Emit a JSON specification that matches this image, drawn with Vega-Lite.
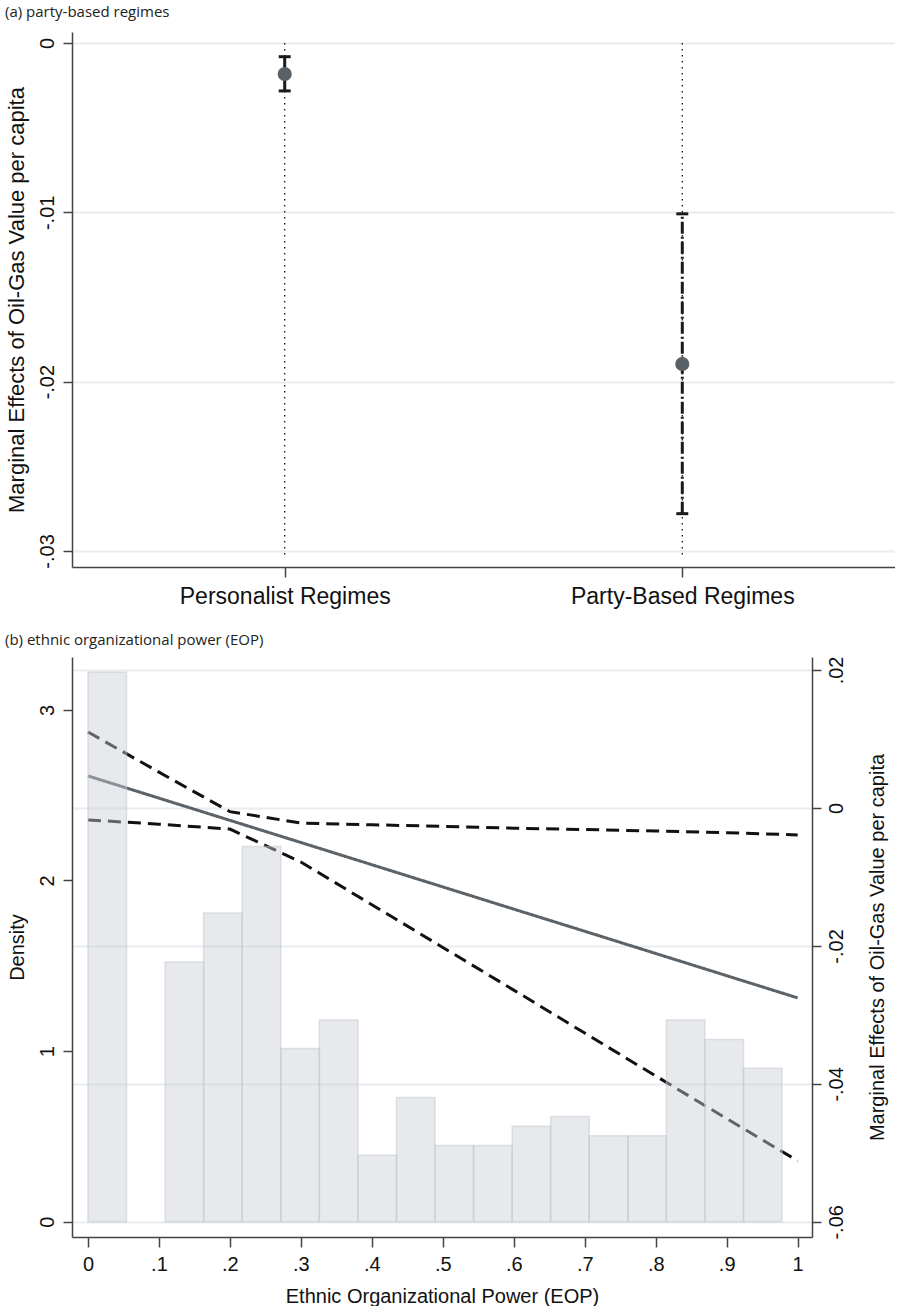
{
  "$schema": "https://vega.github.io/schema/vega-lite/v6.json",
  "background": "white",
  "padding": {"left": 5, "top": 5, "right": 0, "bottom": 0},
  "spacing": 25,
  "resolve": {"scale": {"strokeDash": "independent", "color": "independent"}},
  "datasets": {
    "regimes": [
      {"regime": "Personalist Regimes", "me": -0.00183, "lo": -0.00283, "hi": -0.00081},
      {"regime": "Party-Based Regimes", "me": -0.01896, "lo": -0.0278, "hi": -0.01009}
    ],
    "lines": [
      {"eop": 0.0, "series": "me", "value": 0.00464},
      {"eop": 0.1, "series": "me", "value": 0.00142},
      {"eop": 0.2, "series": "me", "value": -0.0018},
      {"eop": 0.3, "series": "me", "value": -0.00501},
      {"eop": 0.4, "series": "me", "value": -0.00823},
      {"eop": 0.5, "series": "me", "value": -0.01145},
      {"eop": 0.6, "series": "me", "value": -0.01467},
      {"eop": 0.7, "series": "me", "value": -0.01788},
      {"eop": 0.8, "series": "me", "value": -0.0211},
      {"eop": 0.9, "series": "me", "value": -0.02432},
      {"eop": 1.0, "series": "me", "value": -0.02754},
      {"eop": 0.0, "series": "hi", "value": 0.01101},
      {"eop": 0.1, "series": "hi", "value": 0.00519},
      {"eop": 0.2, "series": "hi", "value": -0.00054},
      {"eop": 0.3, "series": "hi", "value": -0.00219},
      {"eop": 0.4, "series": "hi", "value": -0.00244},
      {"eop": 0.5, "series": "hi", "value": -0.00268},
      {"eop": 0.6, "series": "hi", "value": -0.00293},
      {"eop": 0.7, "series": "hi", "value": -0.00313},
      {"eop": 0.8, "series": "hi", "value": -0.00335},
      {"eop": 0.9, "series": "hi", "value": -0.00359},
      {"eop": 1.0, "series": "hi", "value": -0.00391},
      {"eop": 0.0, "series": "lo", "value": -0.00174},
      {"eop": 0.1, "series": "lo", "value": -0.00235},
      {"eop": 0.2, "series": "lo", "value": -0.00306},
      {"eop": 0.3, "series": "lo", "value": -0.00784},
      {"eop": 0.4, "series": "lo", "value": -0.01403},
      {"eop": 0.5, "series": "lo", "value": -0.02022},
      {"eop": 0.6, "series": "lo", "value": -0.02641},
      {"eop": 0.7, "series": "lo", "value": -0.03264},
      {"eop": 0.8, "series": "lo", "value": -0.03886},
      {"eop": 0.9, "series": "lo", "value": -0.04504},
      {"eop": 1.0, "series": "lo", "value": -0.05116}
    ],
    "hist": [
      {"bin_start": 0.0, "bin_end": 0.0543, "density": 3.22},
      {"bin_start": 0.1087, "bin_end": 0.163, "density": 1.523},
      {"bin_start": 0.163, "bin_end": 0.2173, "density": 1.81},
      {"bin_start": 0.2173, "bin_end": 0.2717, "density": 2.2},
      {"bin_start": 0.2717, "bin_end": 0.326, "density": 1.015},
      {"bin_start": 0.326, "bin_end": 0.3803, "density": 1.183},
      {"bin_start": 0.3803, "bin_end": 0.4347, "density": 0.39},
      {"bin_start": 0.4347, "bin_end": 0.489, "density": 0.728},
      {"bin_start": 0.489, "bin_end": 0.5433, "density": 0.447},
      {"bin_start": 0.5433, "bin_end": 0.5977, "density": 0.447},
      {"bin_start": 0.5977, "bin_end": 0.652, "density": 0.56},
      {"bin_start": 0.652, "bin_end": 0.7063, "density": 0.617},
      {"bin_start": 0.7063, "bin_end": 0.7607, "density": 0.504},
      {"bin_start": 0.7607, "bin_end": 0.815, "density": 0.504},
      {"bin_start": 0.815, "bin_end": 0.8693, "density": 1.183},
      {"bin_start": 0.8693, "bin_end": 0.9237, "density": 1.068},
      {"bin_start": 0.9237, "bin_end": 0.978, "density": 0.9}
    ]
  },
  "vconcat": [
    {
      "width": 823,
      "height": 535,
      "title": {"text": "(a) party-based regimes", "anchor": "start", "frame": "group", "dx": -67, "offset": 12, "font": "Open Sans", "fontSize": 15, "fontWeight": "normal", "color": "#222222"},
      "data": {"name": "regimes"},
      "encoding": {
        "x": {
          "field": "regime", "type": "nominal",
          "scale": {"type": "point", "domain": ["Personalist Regimes", "Party-Based Regimes"], "padding": 0.535},
          "axis": {"title": null, "labelAngle": 0, "labelPadding": 8, "tickSize": 10, "grid": false, "labelFontSize": 23, "labelLimit": 0}
        }
      },
      "layer": [
        {
          "mark": {"type": "rule", "strokeDash": [1.5, 4.5], "strokeWidth": 1.3, "color": "#111111"},
          "encoding": {
            "y": {"datum": 0, "type": "quantitative", "scale": {"domain": [-0.03095, 0.00065], "nice": false, "zero": false},
              "axis": {"title": "Marginal Effects of Oil-Gas Value per capita", "titleFontSize": 22, "values": [0, -0.01, -0.02, -0.03], "labelAngle": 270, "grid": true, "tickSize": 9, "labelPadding": 6, "titlePadding": 9,
                "labelExpr": "datum.value == 0 ? '0' : replace(replace(format(datum.value, '.2f'), '\u2212', '-'), '0.', '.')"}},
            "y2": {"datum": -0.0303}
          }
        },
        {
          "mark": {"type": "rule", "strokeWidth": 3, "color": "#1a1a1a"},
          "encoding": {
            "y": {"field": "lo", "type": "quantitative", "scale": {"domain": [-0.03095, 0.00065], "nice": false, "zero": false}, "title": "Marginal Effects of Oil-Gas Value per capita"},
            "y2": {"field": "hi"},
            "strokeDash": {"field": "regime", "type": "nominal", "scale": {"domain": ["Personalist Regimes", "Party-Based Regimes"], "range": [[1, 0], [12, 3, 2, 3]]}, "legend": null}
          }
        },
        {
          "mark": {"type": "tick", "thickness": 3, "size": 12, "color": "#1a1a1a", "opacity": 1},
          "encoding": {"y": {"field": "lo", "type": "quantitative", "scale": {"domain": [-0.03095, 0.00065], "nice": false, "zero": false}, "title": "Marginal Effects of Oil-Gas Value per capita"}}
        },
        {
          "mark": {"type": "tick", "thickness": 3, "size": 12, "color": "#1a1a1a", "opacity": 1},
          "encoding": {"y": {"field": "hi", "type": "quantitative", "scale": {"domain": [-0.03095, 0.00065], "nice": false, "zero": false}, "title": "Marginal Effects of Oil-Gas Value per capita"}}
        },
        {
          "mark": {"type": "circle", "size": 200, "opacity": 1, "color": "#596066"},
          "encoding": {"y": {"field": "me", "type": "quantitative", "scale": {"domain": [-0.03095, 0.00065], "nice": false, "zero": false}, "title": "Marginal Effects of Oil-Gas Value per capita"}}
        }
      ]
    },
    {
      "width": 740,
      "height": 580,
      "title": {"text": "(b) ethnic organizational power (EOP)", "anchor": "start", "frame": "group", "dx": -67, "offset": 8, "font": "Open Sans", "fontSize": 15, "fontWeight": "normal", "color": "#222222"},
      "layer": [
        {
          "data": {"name": "lines"},
          "mark": {"type": "line", "strokeWidth": 3},
          "encoding": {
            "x": {"field": "eop", "type": "quantitative", "scale": {"domain": [-0.0225, 1.0202], "nice": false, "zero": false},
              "axis": {"title": "Ethnic Organizational Power (EOP)", "values": [0, 0.1, 0.2, 0.3, 0.4, 0.5, 0.6, 0.7, 0.8, 0.9, 1], "grid": false, "tickSize": 10, "labelPadding": 7, "titlePadding": 12,
                "labelExpr": "datum.value == 0 ? '0' : datum.value == 1 ? '1' : replace(format(datum.value, '.1f'), '0.', '.')"}},
            "y": {"field": "value", "type": "quantitative", "scale": {"domain": [-0.0622, 0.02188], "nice": false, "zero": false},
              "axis": {"orient": "right", "title": "Marginal Effects of Oil-Gas Value per capita", "titleAngle": 270, "values": [0.02, 0, -0.02, -0.04, -0.06], "labelAngle": 270, "grid": true, "tickSize": 9, "labelPadding": 5, "titlePadding": 41,
                "labelExpr": "datum.value == 0 ? '0' : replace(replace(format(datum.value, '.2f'), '\u2212', '-'), '0.', '.')"}},
            "detail": {"field": "series"},
            "color": {"field": "series", "type": "nominal", "scale": {"domain": ["me", "lo", "hi"], "range": ["#5b6268", "#111111", "#111111"]}, "legend": null},
            "strokeDash": {"field": "series", "type": "nominal", "scale": {"domain": ["me", "lo", "hi"], "range": [[1, 0], [13, 7], [13, 7]]}, "legend": null}
          }
        },
        {
          "data": {"name": "hist"},
          "mark": {"type": "rect", "fill": "#c8ccd4", "fillOpacity": 0.44, "stroke": "#c2c7cf", "strokeOpacity": 0.5, "strokeWidth": 1.5},
          "encoding": {
            "x": {"field": "bin_start", "type": "quantitative"},
            "x2": {"field": "bin_end"},
            "y": {"field": "density", "type": "quantitative", "scale": {"domain": [-0.0896, 3.31], "nice": false, "zero": false},
              "axis": {"orient": "left", "title": "Density", "values": [0, 1, 2, 3], "labelAngle": 270, "grid": false, "tickSize": 9, "labelPadding": 6, "titlePadding": 10}},
            "y2": {"datum": 0}
          }
        }
      ],
      "resolve": {"scale": {"y": "independent"}, "axis": {"y": "independent"}}
    }
  ],
  "config": {
    "view": {"stroke": null},
    "axis": {
      "labelFont": "Liberation Sans", "titleFont": "Liberation Sans",
      "labelFontSize": 20, "titleFontSize": 20,
      "labelColor": "#111111", "titleColor": "#111111", "titleFontWeight": "normal",
      "domainColor": "#444444", "tickColor": "#444444", "domainWidth": 1.5, "tickWidth": 1.5,
      "gridColor": "#e9ecf0", "gridWidth": 2
    }
  }
}
